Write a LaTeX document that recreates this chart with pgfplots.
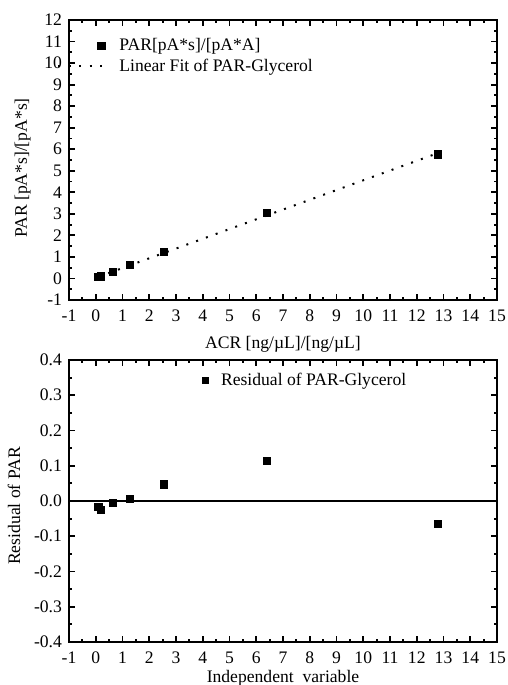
\documentclass[border=0pt]{standalone}
\usepackage{fontspec}
\setmainfont{Liberation Serif}
\usepackage{pgfplots}
\pgfplotsset{compat=1.18}

\pgfplotsset{
  resstyle/.style={
    scale only axis,
    width=214pt,
    xmin=-1, xmax=15,
    xtick={-1,0,...,15},
    minor x tick num=1,
    minor y tick num=1,
    tick align=inside,
    major tick length=2.8pt,
    minor tick length=1.6pt,
    every tick/.style={black, line width=0.9pt},
    axis line style={line width=1.3pt},
    /pgf/number format/assume math mode=true,
    tick label style={font=\fontsize{8.8}{10}\selectfont},
    xticklabel style={yshift=-1.5pt},
    label style={font=\fontsize{8.8}{10}\selectfont},
    legend style={draw=none, fill=none, font=\fontsize{8.8}{10}\selectfont,
      inner sep=0pt, row sep=-1.5pt},
    legend cell align=left,
  },
  % legend pictures, Origin-like
  markimg/.style={legend image code/.code={\draw[##1] plot coordinates {(16.5pt,0pt)};
      \path[draw=none, fill=none] (-5pt,0pt) -- (23.5pt,0pt);}},
  lineimg/.style={legend image code/.code={\draw[##1] (-5pt,0pt) -- (19.5pt,0pt);
      \path[draw=none, fill=none] (-5pt,0pt) -- (23.5pt,0pt);}},
  smallmarkimg/.style={legend image code/.code={\draw[##1, mark size=1.6pt] plot coordinates {(1.6pt,0pt)};
      \path[draw=none, fill=none] (0pt,0pt) -- (7.5pt,0pt);}},
}

\begin{document}
\begin{tikzpicture}
  \useasboundingbox (-34.5pt,-192.5pt) rectangle (219.5pt,150pt);

  % top: PAR vs ACR with linear fit
  \begin{axis}[
      resstyle,
      at={(0,0)}, anchor=south west,
      height=140pt,
      ymin=-1, ymax=12,
      ytick={-1,0,...,12},
      xlabel={ACR [ng/µL]/[ng/µL]},
      ylabel={PAR [pA*s]/[pA*s]},
      xlabel style={yshift=-0.5pt},
      ylabel style={yshift=0pt, xshift=-4pt},
      legend style={at={(0,1)}, anchor=north west, xshift=-6pt, yshift=-7pt},
    ]
    \addplot[only marks, mark=square*, mark size=1.8pt, black, markimg]
      coordinates {(0.1,0.06) (0.2,0.1) (0.64,0.32) (1.28,0.62) (2.56,1.23) (6.4,3.04) (12.8,5.76)};
    \addlegendentry{PAR[pA*s]/[pA*A]}
    \addplot[black, line width=1pt, dash pattern=on 1pt off 4.2pt, lineimg]
      coordinates {(0.1,0.076) (12.8,5.825)};
    \addlegendentry{Linear Fit of PAR-Glycerol}
  \end{axis}

  % bottom: residuals
  \begin{axis}[
      resstyle,
      at={(0,-30pt)}, anchor=north west,
      height=141pt,
      ymin=-0.4, ymax=0.4,
      ytick={-0.4,-0.3,...,0.4},
      yticklabel style={/pgf/number format/.cd, fixed, fixed zerofill, precision=1},
      xlabel={Independent\ \ variable},
      ylabel={Residual of PAR},
      xlabel style={yshift=3.5pt},
      ylabel style={yshift=0pt, xshift=-2.5pt},
      legend style={at={(0.31,0.97)}, anchor=north west},
    ]
    \addplot[black, line width=1pt, forget plot] coordinates {(-1,0) (15,0)};
    \addplot[only marks, mark=square*, mark size=1.8pt, black, smallmarkimg]
      coordinates {(0.1,-0.016) (0.2,-0.026) (0.64,-0.005) (1.28,0.005) (2.56,0.047) (6.4,0.113) (12.8,-0.065)};
    \addlegendentry{Residual of PAR-Glycerol}
  \end{axis}
\end{tikzpicture}
\end{document}
